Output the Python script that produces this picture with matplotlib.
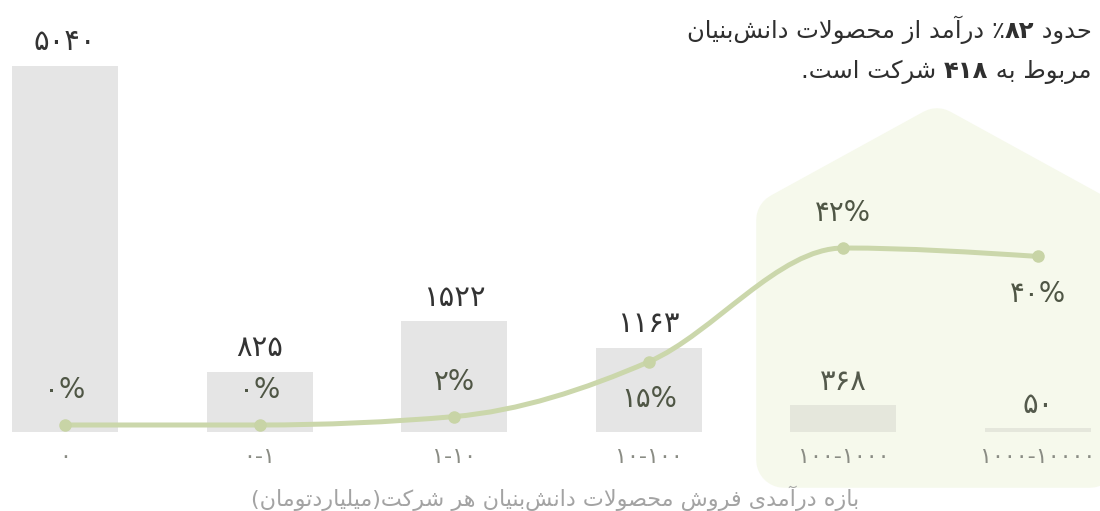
import re

import matplotlib
matplotlib.use("Agg")
import matplotlib.pyplot as plt
from matplotlib.patches import Polygon, PathPatch
from matplotlib.path import Path

plt.rcParams["font.family"] = ["DejaVu Sans"]

# data
categories = ["۰", "۰-۱", "۱-۱۰", "۱۰-۱۰۰", "۱۰۰-۱۰۰۰", "۱۰۰۰-۱۰۰۰۰"]
company_counts = [5040, 825, 1522, 1163, 368, 50]
count_labels = ["۵۰۴۰", "۸۲۵", "۱۵۲۲", "۱۱۶۳", "۳۶۸", "۵۰"]
revenue_share = [0, 0, 2, 15, 42, 40]
share_labels = ["۰%", "۰%", "۲%", "۱۵%", "۴۲%", "۴۰%"]
x_title = "بازه درآمدی فروش محصولات دانش‌بنیان هر شرکت(میلیاردتومان)"
note_line1 = [("حدود ", "normal"), ("۸۲", "bold"), ("٪", "normal"), (" درآمد از محصولات دانش‌بنیان", "normal")]
note_line2 = [("مربوط به ", "normal"), ("۴۱۸", "bold"), (" شرکت است.", "normal")]

# --- minimal persian shaping (matplotlib has no bidi / shaping) ---
DUAL = {"ب": 0xFE8F, "پ": 0xFB56, "ت": 0xFE95, "ث": 0xFE99, "ج": 0xFE9D, "چ": 0xFB7A,
        "ح": 0xFEA1, "خ": 0xFEA5, "س": 0xFEB1, "ش": 0xFEB5, "ص": 0xFEB9, "ض": 0xFEBD,
        "ط": 0xFEC1, "ظ": 0xFEC5, "ع": 0xFEC9, "غ": 0xFECD, "ف": 0xFED1, "ق": 0xFED5,
        "ک": 0xFB8E, "گ": 0xFB92, "ل": 0xFEDD, "م": 0xFEE1, "ن": 0xFEE5, "ه": 0xFEE9,
        "ی": 0xFBFC}
RIGHT = {"ا": 0xFE8D, "آ": 0xFE81, "د": 0xFEA9, "ذ": 0xFEAB, "ر": 0xFEAD, "ز": 0xFEAF,
         "ژ": 0xFB8A, "و": 0xFEED}


def shape(s):
    out, i, n = [], 0, len(s)
    while i < n:
        c = s[i]
        prev = i > 0 and s[i - 1] in DUAL and (c in DUAL or c in RIGHT)
        if c == "ل" and i + 1 < n and s[i + 1] in ("ا", "آ"):
            base = 0xFEFB if s[i + 1] == "ا" else 0xFEF5
            out.append(chr(base + (1 if prev else 0)))
            i += 2
            continue
        if c in DUAL:
            nxt = i + 1 < n and (s[i + 1] in DUAL or s[i + 1] in RIGHT)
            out.append(chr(DUAL[c] + (1 if prev else 0) + (2 if nxt else 0)))
        elif c in RIGHT:
            out.append(chr(RIGHT[c] + (1 if prev else 0)))
        elif c != "\u200c":
            out.append(c)
        i += 1
    return "".join(out)


def rtl(s):
    runs = re.findall(r"[۰-۹0-9٪%]+|[^۰-۹0-9٪%]+", shape(s))
    mirror = str.maketrans("()", ")(")
    return "".join(r if re.match(r"[۰-۹0-9٪%]", r) else r[::-1].translate(mirror)
                   for r in reversed(runs))


fig = plt.figure(figsize=(11, 5.11), dpi=100)

# highlight "house" behind the two top categories (rounded via thick round-joined edge)
W, H = 1100, 511
house_px = [(784, 460), (1090, 460), (1090, 220), (937, 136), (784, 220)]
house = Polygon([(x / W, 1 - y / H) for x, y in house_px], closed=True,
                transform=fig.transFigure, facecolor="#f6f9ec", edgecolor="#f6f9ec",
                linewidth=40, joinstyle="round", zorder=-1)
fig.add_artist(house)

ax = fig.add_axes([0, 79 / H, 1, 432 / H])
ax.patch.set_visible(False)
xs = list(range(len(categories)))
ax.set_xlim(-65 / 194.6, (1100 - 65) / 194.6)
ax.set_ylim(0, 5040 * 432 / 366)

bar_colors = ["#e5e5e5"] * 4 + ["#e5e7dc"] * 2
ax.bar(xs, company_counts, width=0.545, color=bar_colors, zorder=1)
for x, v, lab in zip(xs, company_counts, count_labels):
    c = "#545a4c" if x >= 4 else "#333333"
    ax.annotate(lab, (x, v), xytext=(0, 7), textcoords="offset points",
                ha="center", va="bottom", fontsize=21, color=c)

ax.set_xticks(xs, categories)
ax.tick_params(axis="x", length=0, pad=11, labelsize=16, labelcolor="#8a8c84")
ax.set_yticks([])
for sp in ax.spines.values():
    sp.set_visible(False)

# share line on its own scale, smoothed like a monotone curve
ax2 = ax.twinx()
ax2.set_ylim(-7 / 4.214, 425 / 4.214)
ax2.set_yticks([])
for sp in ax2.spines.values():
    sp.set_visible(False)

ys = revenue_share
n = len(ys)
sl = [ys[i + 1] - ys[i] for i in range(n - 1)]
tang = [0.0] * n
for i in range(1, n - 1):
    s0, s1 = sl[i - 1], sl[i]
    sg = (s0 > 0) - (s0 < 0) + (s1 > 0) - (s1 < 0)
    tang[i] = sg * min(abs(s0), abs(s1), 0.5 * abs((s0 + s1) / 2)) if sg else 0.0
tang[0] = (3 * sl[0] - tang[1]) / 2
tang[-1] = (3 * sl[-1] - tang[-2]) / 2
verts, codes = [(xs[0], ys[0])], [Path.MOVETO]
for i in range(n - 1):
    d = (xs[i + 1] - xs[i]) / 3
    verts += [(xs[i] + d, ys[i] + d * tang[i]), (xs[i + 1] - d, ys[i + 1] - d * tang[i + 1]),
              (xs[i + 1], ys[i + 1])]
    codes += [Path.CURVE4] * 3
ax2.add_patch(PathPatch(Path(verts, codes), facecolor="none", edgecolor="#cbd7ab",
                        linewidth=3.6, capstyle="round", zorder=3))
ax2.plot(xs, ys, "o", ms=8, color="#c8d4a6", zorder=4)

for i, (x, v, lab) in enumerate(zip(xs, ys, share_labels)):
    below = i in (3, 5)
    ax2.annotate(lab, (x, v), xytext=(0, -27 if below else 25), textcoords="offset points",
                 ha="center", va="center", fontsize=20, color="#4f5645")

fig.text(555 / W, 1 - 498 / H, rtl(x_title), ha="center", va="center",
         fontsize=16, color="#a3a3a3")

# right-aligned note with bold numbers, laid out right to left
renderer = fig.canvas.get_renderer()


def note(pieces, y_px):
    xr = 1092
    for txt, wt in pieces:
        t = fig.text(xr / W, 1 - y_px / H, rtl(txt), ha="right", va="baseline",
                     fontsize=17.5, fontweight=wt, color="#2f2f2f")
        xr -= t.get_window_extent(renderer).width


note(note_line1, 38)
note(note_line2, 78)

fig.savefig("out.png", dpi=100)
